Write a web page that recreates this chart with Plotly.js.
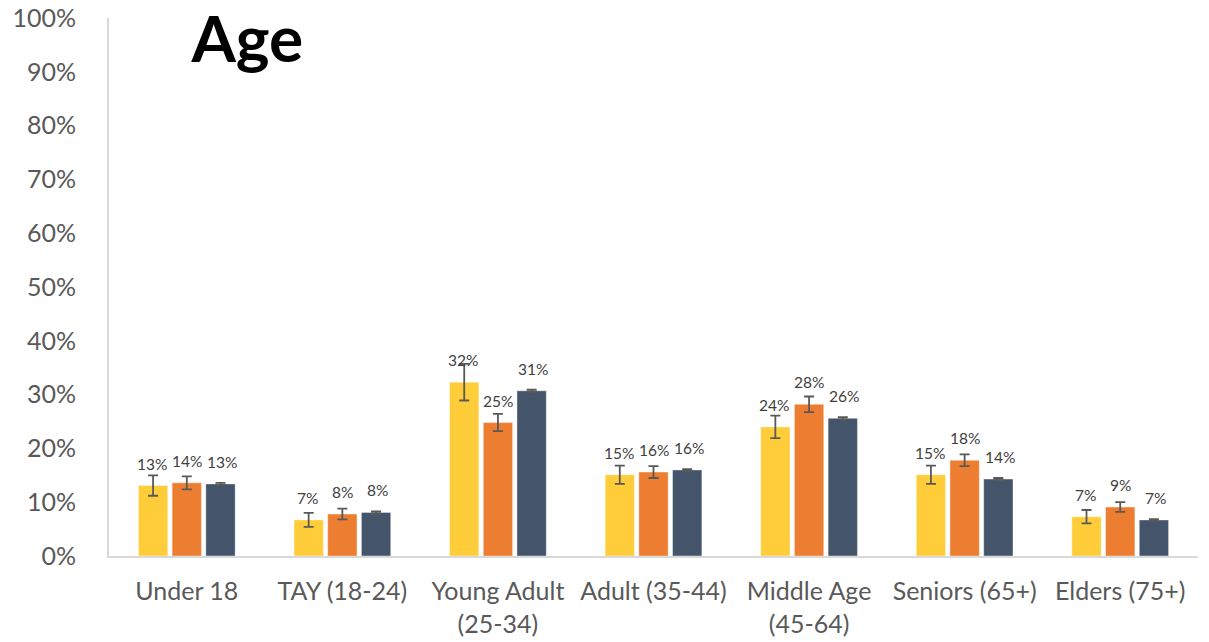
<!DOCTYPE html>
<html>
<head>
<meta charset="utf-8">
<script src="https://cdn.plot.ly/plotly-3.0.1.min.js"></script>
<style>html,body{margin:0;padding:0;background:#fff;}#chart{width:1209px;height:642px;}</style>
</head>
<body>
<div id="chart"></div>
<script>
const categories = ["Under 18", "TAY (18-24)", "Young Adult<br>(25-34)", "Adult (35-44)", "Middle Age<br>(45-64)", "Seniors (65+)", "Elders (75+)"];
const seriesNames = ["Series A", "Series B", "Series C"];
const seriesA = [0.131, 0.067, 0.323, 0.151, 0.240, 0.151, 0.073];
const seriesB = [0.136, 0.078, 0.248, 0.156, 0.282, 0.178, 0.091];
const seriesC = [0.134, 0.081, 0.307, 0.160, 0.256, 0.143, 0.067];
const errA = [0.019, 0.013, 0.034, 0.017, 0.021, 0.017, 0.0125];
const errB = [0.012, 0.010, 0.016, 0.011, 0.0145, 0.011, 0.009];
const errC = [0.002, 0.002, 0.002, 0.0015, 0.002, 0.002, 0.0015];
const colors = ["#FFCD3A", "#ED7D31", "#44546A"];
const yTicks = [0, 0.1, 0.2, 0.3, 0.4, 0.5, 0.6, 0.7, 0.8, 0.9, 1.0];

const FONT = "Lato, 'Open Sans', sans-serif";
const series = [seriesA, seriesB, seriesC];
const errs = [errA, errB, errC];

const traces = series.map((vals, i) => ({
  type: 'bar',
  name: seriesNames[i],
  x: categories,
  y: vals,
  marker: {color: colors[i], line: {color: 'rgba(255,255,255,0.4)', width: 1}},
  error_y: {type: 'data', array: errs[i], visible: true, color: '#595959', thickness: 1.8, width: 5},
  hoverinfo: 'none'
}));

const offsets = [-35, 0, 35];
const annotations = [];
series.forEach((vals, i) => {
  vals.forEach((v, j) => {
    annotations.push({
      x: categories[j], y: v, xref: 'x', yref: 'y',
      text: Math.round(v * 100) + '%',
      showarrow: false, xshift: offsets[i], yshift: 22,
      font: {family: FONT, size: 15.5, color: '#404040'}
    });
  });
});

const layout = {
  width: 1209, height: 642,
  margin: {l: 109, r: 11, t: 18, b: 86},
  paper_bgcolor: '#fff', plot_bgcolor: '#fff',
  showlegend: false,
  barmode: 'group',
  bargap: 0.35,
  bargroupgap: 0.13,
  title: {
    text: '<b>Age</b>',
    font: {family: FONT, size: 64, color: '#000'},
    xref: 'paper', x: 0.127, xanchor: 'center',
    yref: 'container', y: 0.9377, yanchor: 'middle'
  },
  xaxis: {
    showline: true, linecolor: '#D9D9D9', linewidth: 2,
    ticks: '', showgrid: false, zeroline: false,
    tickfont: {family: FONT, size: 25, color: '#595959'},
    ticklabelstandoff: 12
  },
  yaxis: {
    range: [0, 1], tickvals: yTicks, tickformat: '.0%',
    showline: true, linecolor: '#D9D9D9', linewidth: 2,
    ticks: '', showgrid: false, zeroline: false,
    tickfont: {family: FONT, size: 25, color: '#595959'},
    ticklabelstandoff: 26
  },
  annotations: annotations
};

Plotly.newPlot('chart', traces, layout, {displayModeBar: false, staticPlot: true});
</script>
</body>
</html>
